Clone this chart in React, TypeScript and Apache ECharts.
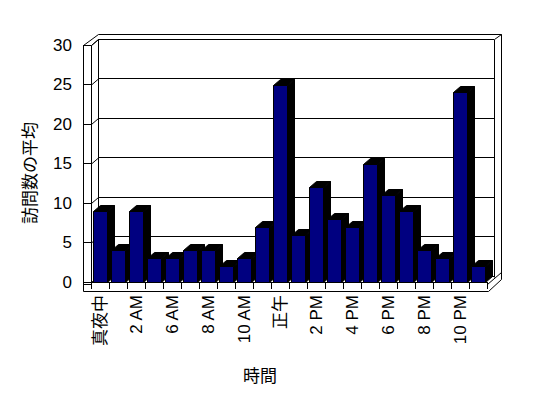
import React, { useEffect, useRef } from "react";
import * as echarts from "echarts";

const categories = ["真夜中","1 AM","2 AM","3 AM","6 AM","7 AM","8 AM","9 AM","10 AM","11 AM","正午","1 PM","2 PM","3 PM","4 PM","5 PM","6 PM","7 PM","8 PM","9 PM","10 PM","11 PM"];
const visits = [9,4,9,3,3,4,4,2,3,7,25,6,12,8,7,15,11,9,4,3,24,2];
const yTicks = [0,5,10,15,20,25,30];
const yTitle = "訪問数の平均";
const xTitle = "時間";

const FONT = "'Liberation Sans', 'Noto Sans CJK JP', sans-serif";
const CJK = "'Noto Sans CJK JP', sans-serif";

// layout
const FL = 91, FT = 45, W = 396, H = 237; // front plane
const DX = 7, DY = 6; // depth offset
const BL = FL + DX, BT = FT - DY; // back plane
const FB = FT + H, BB = BT + H;

function L(x1: number, y1: number, x2: number, y2: number) {
  return {
    type: "line",
    z: 1,
    silent: true,
    shape: { x1: x1 + 0.5, y1: y1 + 0.5, x2: x2 + 0.5, y2: y2 + 0.5 },
    style: { stroke: "#000", lineWidth: 1 },
  };
}

export default function App() {
  const ref = useRef<HTMLDivElement>(null);
  useEffect(() => {
    if (!ref.current) return;
    const chart = echarts.init(ref.current, null, { renderer: "svg" });
    const R = FL + W;
    const frame: any[] = [
      // back wall
      L(BL + W, BT, BL + W, BB + 1),
      L(BL, BT - 5, BL + W + 7, BT - 5),
      L(BL + W, BT, BL + W + 7, BT - 5),
      L(BL + W + 7, BT - 5, BL + W + 7, FB - 3),
      // left wall
      L(FL - 8, FT, FL - 8, FB + 9),
      L(FL, FT, FL, FB),
      L(FL - 8, FT, FL, FT),
      L(FL - 8, FT, BL, BT - 5),
      L(FL, FT, BL, BT),
      L(BL, BT, BL, BB),
      // floor
      L(FL - 8, FB + 2, FL, FB + 2),
      L(FL - 8, FB + 9, R + 1, FB + 9),
      L(FL, FB, R, FB),
      L(R, FB + 2, R + 14, FB - 10),
      L(R + 1, FB + 9, R + 14, FB - 3),
      ...yTicks.map((v) => {
        const yf = FB - (v / 30) * H;
        return L(FL, yf, BL, yf - DY);
      }),
    ];

    chart.setOption({
      animation: false,
      textStyle: { fontFamily: FONT },
      grid: [
        { left: FL, top: FT, width: W, height: H },
        { left: BL, top: BT, width: W, height: H },
      ],
      xAxis: [
        {
          type: "category",
          data: categories,
          gridIndex: 0,
          offset: 2,
          axisLine: { show: true, lineStyle: { color: "#000", width: 1 } },
          axisTick: { show: true, length: 7, interval: 0, lineStyle: { color: "#000" } },
          axisLabel: {
            interval: 1,
            rotate: 90,
            margin: 11,
            color: "#000",
            fontSize: 17,
            fontFamily: FONT,
          },
        },
        {
          type: "category",
          data: categories,
          gridIndex: 1,
          show: false,
        },
      ],
      yAxis: [
        {
          type: "value",
          gridIndex: 0,
          min: 0,
          max: 30,
          interval: 5,
          axisLine: { show: false },
          axisTick: { show: true, length: 8, lineStyle: { color: "#000" } },
          splitLine: { show: false },
          axisLabel: { color: "#000", fontSize: 17, margin: 19, fontFamily: FONT },
        },
        {
          type: "value",
          gridIndex: 1,
          min: 0,
          max: 30,
          interval: 5,
          axisLine: { show: false },
          axisTick: { show: false },
          axisLabel: { show: false },
          splitLine: { show: true, lineStyle: { color: "#000", width: 1 } },
        },
      ],
      graphic: [
        ...frame,
        {
          type: "text",
          x: 28,
          y: 173,
          rotation: Math.PI / 2,
          style: {
            text: yTitle,
            fill: "#000",
            font: `17px ${CJK}`,
            align: "center",
            verticalAlign: "middle",
          },
        },
        {
          type: "text",
          x: 260,
          y: 374,
          style: {
            text: xTitle,
            fill: "#000",
            font: `17px ${CJK}`,
            align: "center",
            verticalAlign: "middle",
          },
        },
      ],
      series: [
        {
          type: "custom",
          xAxisIndex: 0,
          yAxisIndex: 0,
          z: 5,
          data: visits.map((v, i) => [i, v]),
          encode: { x: 0, y: 1 },
          renderItem: (params: any, api: any) => {
            const i = api.value(0);
            const v = api.value(1);
            const top = api.coord([i, v]);
            const base = api.coord([i, 0]);
            const x0 = Math.round(top[0] - 7) + 0.5;
            const x1 = x0 + 14;
            const yt = Math.round(top[1]) + 0.5;
            const yb = Math.round(base[1]) + 0.5;
            return {
              type: "group",
              children: [
                {
                  type: "polygon",
                  shape: { points: [[x0, yt], [x1, yt], [x1 + DX, yt - DY], [x0 + DX, yt - DY]] },
                  style: { fill: "#000", stroke: "#000", lineWidth: 1 },
                },
                {
                  type: "polygon",
                  shape: { points: [[x1, yt], [x1 + DX, yt - DY], [x1 + DX, yb - DY], [x1, yb]] },
                  style: { fill: "#000", stroke: "#000", lineWidth: 1 },
                },
                {
                  type: "rect",
                  shape: { x: x0, y: yt, width: 14, height: yb - yt },
                  style: { fill: "#000080", stroke: "#000", lineWidth: 1 },
                },
              ],
            };
          },
        },
      ],
    });
    return () => chart.dispose();
  }, []);
  return (
    <div
      ref={ref}
      style={{ position: "fixed", left: 0, top: 0, width: 548, height: 398, background: "#fff" }}
    />
  );
}
